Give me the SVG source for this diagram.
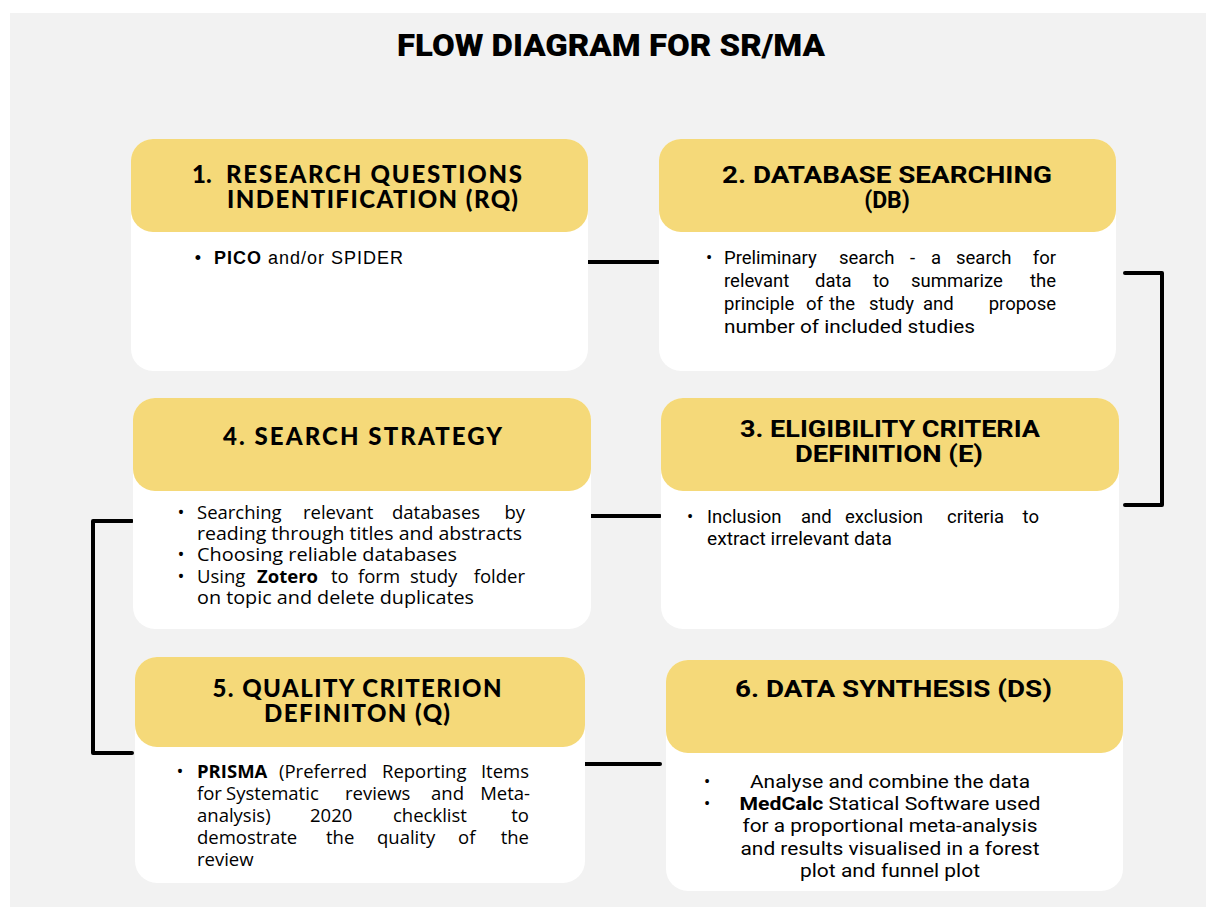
<svg xmlns="http://www.w3.org/2000/svg" width="1206" height="907" viewBox="0 0 1206 907">
  <style>
    .panel { fill: #f2f2f2; }
    .body { fill: #ffffff; }
    .head { fill: #f5d979; }
    .link { fill: none; stroke: #000; stroke-width: 4; stroke-linecap: round; stroke-linejoin: round; }
    .title { font-family: Roboto, "Liberation Sans", sans-serif; font-weight: 900; font-size: 32px; fill: #000; }
    .hr { font-family: Lato, "Open Sans", sans-serif; font-weight: 900; font-size: 24px; fill: #000; }
    .hc { font-family: Roboto, "Liberation Sans", sans-serif; font-weight: 700; font-size: 23px; fill: #000; }
    .ta { font-family: "Liberation Sans", Arial, sans-serif; font-size: 18px; fill: #000; }
    .tr { font-family: Roboto, "Liberation Sans", sans-serif; font-size: 18.5px; fill: #000; }
    .tl { font-family: "Open Sans", Lato, sans-serif; font-size: 18.5px; fill: #000; }
    .b { font-weight: 700; }
    .mid { text-anchor: middle; }
    .end { text-anchor: end; }
  </style>

  <rect x="0" y="0" width="1206" height="907" fill="#ffffff"/>
  <rect class="panel" x="10" y="13" width="1196" height="894"/>

  <text class="title mid" x="611" y="56" textLength="428" lengthAdjust="spacingAndGlyphs">FLOW DIAGRAM FOR SR/MA</text>

  <!-- connectors between the six steps -->
  <g id="connectors">
    <path class="link" d="M588,262 H658"/>
    <path class="link" d="M1125,273 H1162 V505 H1125"/>
    <path class="link" d="M591,516 H660"/>
    <path class="link" d="M132,521 H93 V753 H132"/>
    <path class="link" d="M585,764 H660"/>
  </g>

  <!-- step 1 -->
  <g id="node-rq">
    <rect class="body" x="131" y="139" width="457" height="232" rx="22"/>
    <rect class="head" x="131" y="139" width="457" height="93" rx="22"/>
    <text class="hr" x="192" y="183">1.</text>
    <text class="hr" x="226" y="183" textLength="296">RESEARCH QUESTIONS</text>
    <text class="hr" x="227" y="208" textLength="291">INDENTIFICATION (RQ)</text>
    <text class="ta mid" x="198" y="264">•</text>
    <text class="ta" x="214" y="264" textLength="189"><tspan class="b">PICO</tspan> and/or SPIDER</text>
  </g>

  <!-- step 2 -->
  <g id="node-db">
    <rect class="body" x="659" y="139" width="457" height="232" rx="22"/>
    <rect class="head" x="659" y="139" width="457" height="93" rx="22"/>
    <text class="hc" x="722" y="183" textLength="330" lengthAdjust="spacingAndGlyphs">2. DATABASE SEARCHING</text>
    <text class="hc mid" x="887" y="208">(DB)</text>
    <text class="tr mid" x="709" y="264">•</text>
    <text class="tr" y="264"><tspan x="724">Preliminary</tspan><tspan x="839">search</tspan><tspan x="910">-</tspan><tspan x="931">a</tspan><tspan x="956">search</tspan></text>
    <text class="tr end" x="1056" y="264">for</text>
    <text class="tr" y="287"><tspan x="724">relevant</tspan><tspan x="815">data</tspan><tspan x="873">to</tspan><tspan x="911">summarize</tspan></text>
    <text class="tr end" x="1056" y="287">the</text>
    <text class="tr" y="310"><tspan x="724">principle</tspan><tspan x="806">of</tspan><tspan x="829">the</tspan><tspan x="869">study</tspan><tspan x="923">and</tspan></text>
    <text class="tr end" x="1056" y="310">propose</text>
    <text class="tr" x="724" y="333" textLength="251" lengthAdjust="spacingAndGlyphs">number of included studies</text>
  </g>

  <!-- step 3 -->
  <g id="node-e">
    <rect class="body" x="661" y="398" width="458" height="231" rx="22"/>
    <rect class="head" x="661" y="398" width="458" height="93" rx="22"/>
    <text class="hc mid" x="890" y="437" textLength="300" lengthAdjust="spacingAndGlyphs">3. ELIGIBILITY CRITERIA</text>
    <text class="hc mid" x="889" y="462" textLength="188" lengthAdjust="spacingAndGlyphs">DEFINITION (E)</text>
    <text class="tr mid" x="690" y="523">•</text>
    <text class="tr" y="523"><tspan x="707">Inclusion</tspan><tspan x="801">and</tspan><tspan x="845">exclusion</tspan><tspan x="947">criteria</tspan></text>
    <text class="tr end" x="1039" y="523">to</text>
    <text class="tr" x="707" y="545" textLength="185" lengthAdjust="spacingAndGlyphs">extract irrelevant data</text>
  </g>

  <!-- step 4 -->
  <g id="node-ss">
    <rect class="body" x="133" y="398" width="458" height="231" rx="22"/>
    <rect class="head" x="133" y="398" width="458" height="93" rx="22"/>
    <text class="hr" x="223" y="445" textLength="279">4. SEARCH STRATEGY</text>
    <text class="tl mid" x="181" y="519">•</text>
    <text class="tl" y="519"><tspan x="197">Searching</tspan><tspan x="303">relevant</tspan><tspan x="392">databases</tspan></text>
    <text class="tl end" x="525" y="519">by</text>
    <text class="tl" x="197" y="540" textLength="325" lengthAdjust="spacingAndGlyphs">reading through titles and abstracts</text>
    <text class="tl mid" x="181" y="561">•</text>
    <text class="tl" x="197" y="561" textLength="260" lengthAdjust="spacingAndGlyphs">Choosing reliable databases</text>
    <text class="tl mid" x="181" y="583">•</text>
    <text class="tl" y="583"><tspan x="197">Using</tspan><tspan x="257" class="b">Zotero</tspan><tspan x="331">to</tspan><tspan x="358">form</tspan><tspan x="410">study</tspan></text>
    <text class="tl end" x="525" y="583">folder</text>
    <text class="tl" x="197" y="604" textLength="277" lengthAdjust="spacingAndGlyphs">on topic and delete duplicates</text>
  </g>

  <!-- step 5 -->
  <g id="node-q">
    <rect class="body" x="135" y="657" width="450" height="226" rx="22"/>
    <rect class="head" x="135" y="657" width="450" height="90" rx="22"/>
    <text class="hr mid" x="357" y="697" textLength="289">5. QUALITY CRITERION</text>
    <text class="hr mid" x="357" y="722" textLength="186">DEFINITON (Q)</text>
    <text class="tl mid" x="180" y="778">•</text>
    <text class="tl" y="778"><tspan x="197" class="b">PRISMA</tspan><tspan x="279">(Preferred</tspan><tspan x="382">Reporting</tspan></text>
    <text class="tl end" x="529" y="778">Items</text>
    <text class="tl" y="800"><tspan x="197">for</tspan><tspan x="226">Systematic</tspan><tspan x="345">reviews</tspan><tspan x="431">and</tspan></text>
    <text class="tl end" x="530" y="800">Meta-</text>
    <text class="tl" y="822"><tspan x="197">analysis)</tspan><tspan x="310">2020</tspan><tspan x="393">checklist</tspan></text>
    <text class="tl end" x="529" y="822">to</text>
    <text class="tl" y="844"><tspan x="197">demostrate</tspan><tspan x="326">the</tspan><tspan x="377">quality</tspan><tspan x="458">of</tspan></text>
    <text class="tl end" x="529" y="844">the</text>
    <text class="tl" x="197" y="866">review</text>
  </g>

  <!-- step 6 -->
  <g id="node-ds">
    <rect class="body" x="666" y="660" width="457" height="231" rx="22"/>
    <rect class="head" x="666" y="660" width="457" height="93" rx="22"/>
    <text class="hc" x="735" y="697" textLength="317" lengthAdjust="spacingAndGlyphs">6. DATA SYNTHESIS (DS)</text>
    <text class="tr mid" x="707" y="788">•</text>
    <text class="tr mid" x="890" y="788" textLength="280" lengthAdjust="spacingAndGlyphs">Analyse and combine the data</text>
    <text class="tr mid" x="707" y="810">•</text>
    <text class="tr mid" x="890" y="810" textLength="301" lengthAdjust="spacingAndGlyphs"><tspan class="b">MedCalc</tspan> Statical Software used</text>
    <text class="tr mid" x="890" y="832" textLength="295" lengthAdjust="spacingAndGlyphs">for a proportional meta-analysis</text>
    <text class="tr mid" x="890" y="855" textLength="299" lengthAdjust="spacingAndGlyphs">and results visualised in a forest</text>
    <text class="tr mid" x="890" y="877" textLength="180" lengthAdjust="spacingAndGlyphs">plot and funnel plot</text>
  </g>
</svg>
